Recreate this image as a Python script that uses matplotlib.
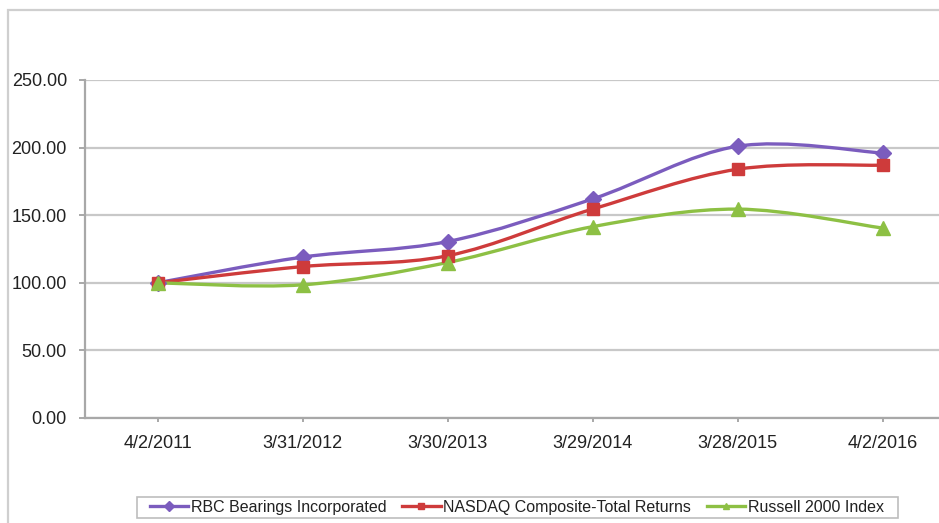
import matplotlib
matplotlib.use("Agg")
import matplotlib.pyplot as plt
from matplotlib.path import Path
from matplotlib.patches import PathPatch, Rectangle
from matplotlib.lines import Line2D

dates = ["4/2/2011", "3/31/2012", "3/30/2013", "3/29/2014", "3/28/2015", "4/2/2016"]
rbc = [100.0, 119.0, 130.5, 162.0, 201.0, 196.0]
nasdaq = [100.0, 112.0, 120.0, 154.5, 184.0, 187.0]
russell = [100.0, 98.5, 115.0, 141.5, 154.5, 140.5]

names = ["RBC Bearings Incorporated", "NASDAQ Composite-Total Returns", "Russell 2000 Index"]
series = [rbc, nasdaq, russell]
colors = ["#7B5CBE", "#CE3B3B", "#8DC044"]
markers = ["D", "s", "^"]
msizes = [8, 8.5, 10]

plt.rcParams["font.family"] = ["Liberation Sans", "DejaVu Sans"]

W, H = 939, 523
fig = plt.figure(figsize=(W / 100, H / 100), dpi=100)
fig.patch.set_facecolor("white")

# outer frame (right and bottom edges fall outside the picture)
fig.add_artist(Rectangle((8 / W, -0.1), 1.2, (H - 10) / H + 0.1, transform=fig.transFigure,
                         fill=False, edgecolor="#cfcfcf", linewidth=1.6))

ax = fig.add_axes([85 / W, 105 / H, 870 / W, 338 / H])


def smooth_path(xs, ys):
    # Excel-style smoothed line: cubic Bezier segments through the points
    pts = list(zip(xs, ys))
    verts = [pts[0]]
    codes = [Path.MOVETO]
    n = len(pts)
    for i in range(n - 1):
        p0 = pts[i - 1] if i > 0 else pts[i]
        p1 = pts[i]
        p2 = pts[i + 1]
        p3 = pts[i + 2] if i + 2 < n else pts[i + 1]
        c1 = (p1[0] + (p2[0] - p0[0]) / 6, p1[1] + (p2[1] - p0[1]) / 6)
        c2 = (p2[0] - (p3[0] - p1[0]) / 6, p2[1] - (p3[1] - p1[1]) / 6)
        verts += [c1, c2, p2]
        codes += [Path.CURVE4] * 3
    return Path(verts, codes)


xs = list(range(len(dates)))
for vals, c, m, ms in zip(series, colors, markers, msizes):
    ax.add_patch(PathPatch(smooth_path(xs, vals), fill=False, edgecolor=c, linewidth=2.4, zorder=3))
    ax.plot(xs, vals, linestyle="none", marker=m, markersize=ms, color=c, zorder=4)

ax.set_xlim(-0.5, len(dates) - 0.5)
ax.set_ylim(0, 250)
ax.set_yticks([0, 50, 100, 150, 200, 250])
ax.set_yticklabels([f"{v:.2f}" for v in [0, 50, 100, 150, 200, 250]])
ax.set_xticks(xs)
ax.set_xticklabels(dates)
ax.tick_params(axis="y", labelsize=13, colors="#999999", labelcolor="#222222", length=4, width=1.2, pad=9)
ax.tick_params(axis="x", labelsize=13, colors="#999999", labelcolor="#222222", length=3, width=1.2, pad=9)

ax.grid(axis="y", color="#c8c8c8", linewidth=1.6)
ax.set_axisbelow(True)
for side in ["top", "right"]:
    ax.spines[side].set_visible(False)
for side in ["left", "bottom"]:
    ax.spines[side].set_color("#a8a8a8")
    ax.spines[side].set_linewidth(1.6)

# legend frame drawn separately so its padding can match the reference
fig.add_artist(Rectangle((137 / W, (H - 518) / H), (898 - 137) / W, 21 / H, transform=fig.transFigure,
                         fill=False, edgecolor="#bdbdbd", linewidth=1.2))
handles = [Line2D([], [], color=c, linewidth=2.4, marker=m, markersize=5) for c, m in zip(colors, markers)]
leg = fig.legend(handles, names, loc="center left", bbox_to_anchor=(150 / W, (H - 507.5) / H),
                 ncol=3, frameon=False, fontsize=11.5, handlelength=2.4,
                 handletextpad=0.15, columnspacing=1.0, borderpad=0, borderaxespad=0)
for t in leg.get_texts():
    t.set_color("#222222")

fig.savefig("out.png", dpi=100, facecolor="white")
